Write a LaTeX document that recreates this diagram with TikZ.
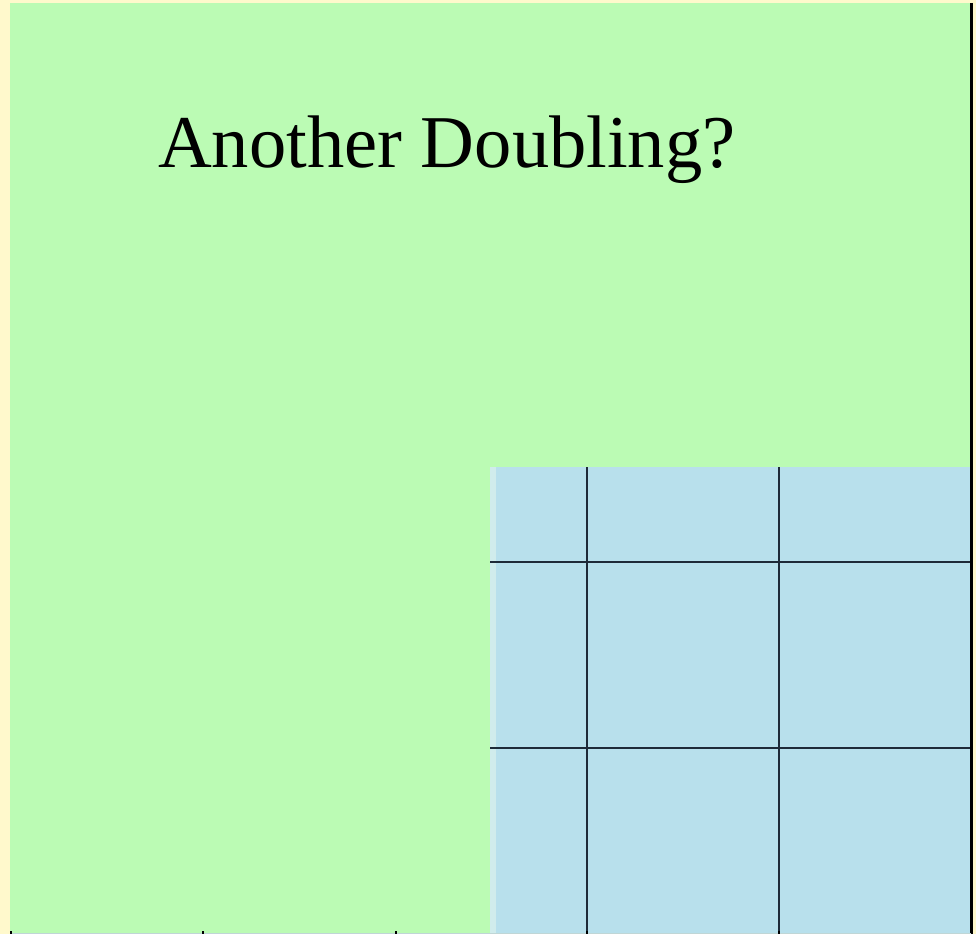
\documentclass[tikz,border=0pt]{standalone}
\usepackage{fontspec}
\setmainfont{Liberation Serif}
\definecolor{cream}{RGB}{255,249,204}
\definecolor{lgreen}{RGB}{187,251,180}
\definecolor{lblue}{RGB}{184,224,236}
\definecolor{pblue}{RGB}{208,236,236}
\definecolor{gridc}{RGB}{30,42,56}
\tikzset{gridline/.style={draw=gridc,line width=2.6pt},
         tick/.style={draw=black,line width=2.5pt}}
\begin{document}
\begin{tikzpicture}[x=1pt,y=-1pt]
\useasboundingbox (0,0) rectangle (976,934);
\fill[cream] (0,0) rectangle (976,934);
\fill[lgreen] (10,3) rectangle (971,934);
\fill[lblue] (490,467) rectangle (971,934);
\fill[pblue] (490,467) rectangle (496,934);
\draw[gridline] (587,467) -- (587,934);
\draw[gridline] (779,467) -- (779,934);
\draw[gridline] (490,562) -- (971,562);
\draw[gridline] (490,748) -- (971,748);
\draw[draw=black,line width=3pt] (971.5,3) -- (971.5,934);
\draw[draw=pblue!80!gray,line width=1pt] (10,933.5) -- (971,933.5);
\foreach \t in {11,203,396,587,779} \draw[tick] (\t,931) -- (\t,934);
\node[anchor=base west,inner sep=0pt,font=\fontsize{74.5}{80}\selectfont] (title) at (158,167) {Another Doubling?};
\end{tikzpicture}
\end{document}
